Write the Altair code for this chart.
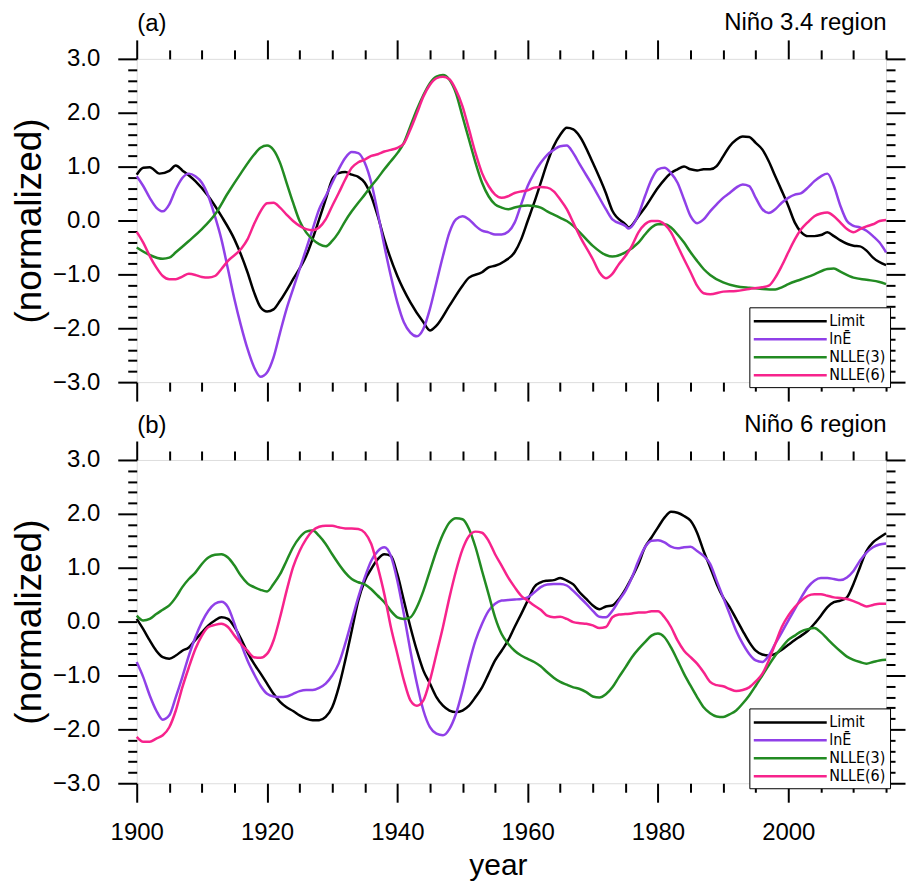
import altair as alt
import pandas as pd

SERIES = ["Limit", "lnĒ", "NLLE(3)", "NLLE(6)"]
COLORS = ["#000000", "#9040E8", "#228B22", "#F7238C"]
X_TICKS = list(range(1900, 2016, 5))
Y_TICKS = [round(-3 + 0.2 * i, 1) for i in range(31)]
PANEL_TAGS = ["(a)", "(b)"]
PANEL_REGIONS = ["Niño 3.4 region", "Niño 6 region"]

# ---- panel (a): Niño 3.4 region ----
A_LIMIT = [(1900, 0.85), (1901, 0.98), (1902, 0.99), (1903.5, 0.87), (1905, 0.92), (1906, 1.02), (1907, 0.93),
           (1909, 0.73), (1911, 0.45), (1913, 0.08), (1915, -0.35), (1917, -0.96), (1918, -1.33), (1919, -1.61),
           (1920, -1.69), (1921, -1.65), (1922, -1.49), (1924, -1.09), (1926, -0.66), (1928, 0.02), (1929, 0.39),
           (1930, 0.76), (1931, 0.88), (1932, 0.9), (1933, 0.85), (1934, 0.81), (1935, 0.7), (1936, 0.45),
           (1937, 0.08), (1938, -0.35), (1940, -1.03), (1942, -1.52), (1944, -1.89), (1945, -2.04), (1946, -1.95),
           (1948, -1.58), (1950, -1.21), (1951, -1.06), (1953, -0.96), (1954, -0.87), (1955, -0.84), (1956.5, -0.75),
           (1958, -0.59), (1959, -0.35), (1960, -0.01), (1961, 0.33), (1962, 0.7), (1963, 1.07), (1964, 1.38),
           (1965, 1.59), (1966, 1.72), (1967, 1.69), (1968, 1.56), (1970, 1.07), (1972, 0.51), (1973, 0.18),
           (1975, -0.07), (1975.5, -0.13), (1977, 0.08), (1978, 0.24), (1980, 0.61), (1981, 0.76), (1982, 0.88),
           (1983, 0.95), (1984, 1.0), (1985, 0.95), (1986, 0.93), (1987, 0.95), (1988, 0.95), (1989, 1.01),
           (1990, 1.19), (1991, 1.38), (1992, 1.5), (1993, 1.56), (1994, 1.55), (1995, 1.44), (1996, 1.32),
           (1997, 1.1), (1998, 0.82), (1999, 0.55), (2000, 0.27), (2001, -0.04), (2002, -0.22), (2003, -0.29),
           (2004, -0.29), (2005, -0.27), (2006, -0.22), (2007, -0.29), (2008, -0.37), (2010, -0.47), (2011, -0.48),
           (2012, -0.56), (2013, -0.69), (2015, -0.83)]
A_LNE = [(1900, 0.82), (1901, 0.64), (1902, 0.42), (1903, 0.24), (1904, 0.17), (1905, 0.3), (1906, 0.58),
         (1907, 0.79), (1908, 0.87), (1909, 0.82), (1910, 0.7), (1911, 0.45), (1912, 0.08), (1913, -0.35),
         (1914, -0.9), (1915, -1.46), (1916, -1.95), (1917, -2.38), (1918, -2.72), (1919, -2.9), (1920, -2.82),
         (1921, -2.54), (1922, -2.08), (1923, -1.64), (1924, -1.27), (1925, -0.9), (1926, -0.53), (1927, -0.16),
         (1928, 0.21), (1929, 0.45), (1930, 0.7), (1931, 0.95), (1932, 1.16), (1933, 1.27), (1934, 1.25),
         (1935, 1.07), (1936, 0.7), (1937, 0.14), (1938, -0.47), (1939, -1.03), (1940, -1.52), (1941, -1.89),
         (1942, -2.08), (1943, -2.15), (1944, -2.01), (1945, -1.64), (1946, -1.15), (1947, -0.66), (1948, -0.22),
         (1949, 0.02), (1950, 0.08), (1951, 0.02), (1952, -0.1), (1953, -0.19), (1954, -0.22), (1955, -0.26),
         (1956, -0.26), (1957, -0.21), (1958, -0.04), (1959, 0.3), (1960, 0.64), (1961, 0.88), (1962, 1.07),
         (1963, 1.22), (1964, 1.31), (1965, 1.38), (1966, 1.39), (1967, 1.25), (1968, 1.04), (1970, 0.64),
         (1972, 0.21), (1973, 0.02), (1975, -0.1), (1975.5, -0.15), (1977, 0.11), (1978, 0.45), (1979, 0.76),
         (1980, 0.95), (1981, 0.98), (1982, 0.88), (1983, 0.7), (1984, 0.39), (1985, 0.08), (1986, -0.05),
         (1987, 0.02), (1988, 0.17), (1989, 0.3), (1990, 0.42), (1991, 0.51), (1992, 0.61), (1993, 0.67),
         (1994, 0.64), (1995, 0.42), (1996, 0.21), (1997, 0.14), (1998, 0.21), (1999, 0.33), (2000, 0.42),
         (2001, 0.48), (2002, 0.51), (2003, 0.61), (2004, 0.73), (2005, 0.82), (2006, 0.87), (2007, 0.64),
         (2008, 0.27), (2009, -0.01), (2010, -0.1), (2011, -0.13), (2012, -0.19), (2013, -0.29), (2014, -0.41),
         (2015, -0.59)]
A_NLLE3 = [(1900, -0.5), (1902, -0.64), (1904, -0.71), (1905, -0.69), (1906, -0.59), (1908, -0.38), (1910, -0.16),
           (1912, 0.11), (1914, 0.51), (1916, 0.88), (1918, 1.22), (1919, 1.35), (1920, 1.39), (1921, 1.31),
           (1922, 1.07), (1923, 0.7), (1924, 0.33), (1925, -0.01), (1926, -0.22), (1927, -0.35), (1928, -0.44),
           (1929, -0.48), (1930, -0.38), (1931, -0.22), (1932, -0.01), (1933, 0.17), (1934, 0.33), (1935, 0.48),
           (1936, 0.64), (1937, 0.79), (1938, 0.95), (1939, 1.1), (1940, 1.25), (1941, 1.44), (1942, 1.75),
           (1943, 2.06), (1944, 2.33), (1945, 2.55), (1946, 2.67), (1947, 2.7), (1948, 2.61), (1949, 2.36),
           (1950, 1.93), (1951, 1.5), (1952, 1.07), (1953, 0.7), (1954, 0.45), (1955, 0.3), (1956, 0.24),
           (1957, 0.21), (1958, 0.24), (1959, 0.27), (1960, 0.28), (1961, 0.27), (1962, 0.24), (1963, 0.17),
           (1964, 0.11), (1965, 0.05), (1966, -0.01), (1967, -0.1), (1968, -0.22), (1970, -0.47), (1972, -0.64),
           (1973, -0.67), (1975, -0.59), (1977, -0.41), (1978, -0.26), (1979, -0.13), (1980, -0.07), (1981, -0.07),
           (1982, -0.13), (1983, -0.26), (1984, -0.41), (1985, -0.59), (1986, -0.75), (1987, -0.9), (1988, -1.01),
           (1990, -1.15), (1992, -1.22), (1994, -1.25), (1996, -1.27), (1998, -1.28), (1999, -1.24), (2000, -1.18),
           (2002, -1.09), (2004, -1.0), (2006, -0.9), (2007, -0.89), (2008, -0.95), (2010, -1.06), (2012, -1.1),
           (2014, -1.14), (2015, -1.18)]
A_NLLE6 = [(1900, -0.21), (1901, -0.41), (1902, -0.66), (1903, -0.87), (1904, -1.03), (1905, -1.09), (1906, -1.09),
           (1907, -1.04), (1908, -0.99), (1909, -1.01), (1910, -1.05), (1911, -1.06), (1912, -1.03), (1913, -0.9),
           (1914, -0.75), (1916, -0.53), (1917, -0.35), (1918, -0.07), (1919, 0.17), (1920, 0.32), (1921, 0.33),
           (1922, 0.24), (1923, 0.11), (1924, -0.01), (1925, -0.1), (1926, -0.16), (1927, -0.18), (1928, -0.13),
           (1929, 0.02), (1930, 0.27), (1931, 0.51), (1932, 0.76), (1933, 0.98), (1934, 1.08), (1935, 1.13),
           (1936, 1.2), (1937, 1.23), (1938, 1.28), (1939, 1.31), (1940, 1.35), (1941, 1.43), (1942, 1.69),
           (1943, 1.99), (1944, 2.3), (1945, 2.52), (1946, 2.64), (1947, 2.67), (1948, 2.62), (1949, 2.42),
           (1950, 2.12), (1951, 1.69), (1952, 1.25), (1953, 0.88), (1954, 0.64), (1955, 0.48), (1956, 0.42),
           (1957, 0.45), (1958, 0.51), (1959, 0.54), (1960, 0.56), (1961, 0.61), (1962, 0.62), (1963, 0.61),
           (1964, 0.54), (1965, 0.39), (1966, 0.21), (1967, -0.04), (1968, -0.29), (1970, -0.72), (1971, -0.96),
           (1972, -1.07), (1973, -0.99), (1974, -0.81), (1975, -0.66), (1976, -0.47), (1977, -0.22), (1978, -0.07),
           (1979, -0.01), (1980, -0.01), (1981, -0.07), (1982, -0.22), (1983, -0.47), (1984, -0.72), (1985, -0.96),
           (1986, -1.21), (1987, -1.35), (1988, -1.37), (1990, -1.32), (1992, -1.31), (1994, -1.27), (1996, -1.24),
           (1997, -1.21), (1998, -1.06), (1999, -0.84), (2000, -0.59), (2001, -0.35), (2002, -0.16), (2003, -0.03),
           (2004, 0.08), (2005, 0.13), (2006, 0.15), (2007, 0.08), (2008, -0.04), (2009, -0.16), (2010, -0.22),
           (2011, -0.16), (2012, -0.11), (2013, -0.07), (2014, -0.01), (2015, 0.01)]

# ---- panel (b): Niño 6 region ----
B_LIMIT = [(1900, 0.05), (1901, -0.14), (1902, -0.35), (1903, -0.54), (1904, -0.66), (1905, -0.69), (1906, -0.63),
           (1907, -0.54), (1908, -0.48), (1909, -0.34), (1910, -0.2), (1911, -0.07), (1912, 0.02), (1913, 0.08),
           (1914, 0.05), (1915, -0.1), (1916, -0.32), (1917, -0.57), (1918, -0.78), (1919, -0.96), (1920, -1.15),
           (1921, -1.34), (1922, -1.49), (1923, -1.59), (1924, -1.66), (1925, -1.74), (1926, -1.8), (1927, -1.83),
           (1928, -1.83), (1929, -1.77), (1930, -1.59), (1931, -1.22), (1932, -0.72), (1933, -0.17), (1934, 0.39),
           (1935, 0.76), (1936, 0.98), (1937, 1.16), (1938, 1.25), (1939, 1.22), (1940, 0.88), (1941, 0.39),
           (1942, -0.1), (1943, -0.54), (1944, -0.91), (1945, -1.15), (1946, -1.4), (1947, -1.56), (1948, -1.65),
           (1949, -1.68), (1950, -1.65), (1951, -1.56), (1952, -1.4), (1953, -1.22), (1954, -0.97), (1955, -0.72),
           (1956, -0.54), (1957, -0.35), (1958, -0.1), (1959, 0.14), (1960, 0.39), (1961, 0.64), (1962, 0.73),
           (1963, 0.76), (1964, 0.77), (1965, 0.81), (1966, 0.76), (1967, 0.69), (1968, 0.54), (1969, 0.42),
           (1970, 0.3), (1971, 0.23), (1972, 0.28), (1973, 0.3), (1974, 0.42), (1975, 0.6), (1976, 0.82),
           (1977, 1.07), (1978, 1.38), (1979, 1.56), (1980, 1.75), (1981, 1.93), (1982, 2.04), (1983, 2.02),
           (1984, 1.96), (1985, 1.87), (1986, 1.65), (1987, 1.31), (1988, 1.01), (1989, 0.7), (1990, 0.45),
           (1991, 0.27), (1992, 0.05), (1993, -0.17), (1994, -0.38), (1995, -0.54), (1996, -0.61), (1997, -0.63),
           (1998, -0.6), (1999, -0.52), (2000, -0.43), (2001, -0.34), (2002, -0.26), (2003, -0.17), (2004, -0.04),
           (2005, 0.11), (2006, 0.27), (2007, 0.36), (2008, 0.39), (2009, 0.45), (2010, 0.7), (2011, 1.01),
           (2012, 1.31), (2013, 1.47), (2014, 1.56), (2015, 1.64)]
B_LNE = [(1900, -0.75), (1901, -1.03), (1902, -1.37), (1903, -1.65), (1904, -1.82), (1905, -1.74), (1906, -1.4),
         (1907, -1.03), (1908, -0.63), (1909, -0.29), (1910, -0.01), (1911, 0.2), (1912, 0.33), (1913, 0.37),
         (1914, 0.27), (1915, -0.04), (1916, -0.41), (1917, -0.72), (1918, -0.97), (1919, -1.19), (1920, -1.34),
         (1921, -1.39), (1922, -1.4), (1923, -1.39), (1924, -1.34), (1925, -1.29), (1926, -1.27), (1927, -1.27),
         (1928, -1.23), (1929, -1.15), (1930, -1.0), (1931, -0.78), (1932, -0.41), (1933, 0.02), (1934, 0.45),
         (1935, 0.82), (1936, 1.13), (1937, 1.31), (1938, 1.38), (1939, 1.22), (1940, 0.76), (1941, 0.14),
         (1942, -0.54), (1943, -1.15), (1944, -1.65), (1945, -1.96), (1946, -2.08), (1947, -2.11), (1948, -1.99),
         (1949, -1.71), (1950, -1.28), (1951, -0.78), (1952, -0.35), (1953, -0.04), (1954, 0.2), (1955, 0.33),
         (1956, 0.39), (1957, 0.4), (1958, 0.41), (1959, 0.42), (1960, 0.45), (1961, 0.54), (1962, 0.64),
         (1963, 0.69), (1964, 0.7), (1965, 0.7), (1966, 0.67), (1967, 0.57), (1968, 0.45), (1969, 0.33),
         (1970, 0.2), (1971, 0.09), (1972, 0.08), (1973, 0.2), (1974, 0.39), (1975, 0.57), (1976, 0.82),
         (1977, 1.13), (1978, 1.38), (1979, 1.5), (1980, 1.51), (1981, 1.47), (1982, 1.39), (1983, 1.36),
         (1984, 1.38), (1985, 1.39), (1986, 1.31), (1987, 1.22), (1988, 1.07), (1989, 0.76), (1990, 0.45),
         (1991, 0.14), (1992, -0.17), (1993, -0.41), (1994, -0.6), (1995, -0.72), (1996, -0.75), (1997, -0.63),
         (1998, -0.41), (1999, -0.2), (2000, 0.02), (2001, 0.23), (2002, 0.45), (2003, 0.64), (2004, 0.76),
         (2005, 0.81), (2006, 0.81), (2007, 0.79), (2008, 0.77), (2009, 0.82), (2010, 0.94), (2011, 1.13),
         (2012, 1.28), (2013, 1.38), (2014, 1.43), (2015, 1.45)]
B_NLLE3 = [(1900, 0.11), (1901, 0.02), (1902, 0.05), (1903, 0.14), (1904, 0.22), (1905, 0.3), (1906, 0.45),
           (1907, 0.64), (1908, 0.79), (1909, 0.91), (1910, 1.07), (1911, 1.19), (1912, 1.24), (1913, 1.25),
           (1914, 1.19), (1915, 1.04), (1916, 0.85), (1917, 0.71), (1918, 0.64), (1919, 0.59), (1920, 0.56),
           (1921, 0.7), (1922, 0.88), (1923, 1.13), (1924, 1.38), (1925, 1.56), (1926, 1.67), (1927, 1.69),
           (1928, 1.59), (1929, 1.44), (1930, 1.25), (1931, 1.07), (1932, 0.91), (1933, 0.79), (1934, 0.73),
           (1935, 0.69), (1936, 0.6), (1937, 0.48), (1938, 0.36), (1939, 0.2), (1940, 0.08), (1941, 0.05),
           (1942, 0.08), (1943, 0.27), (1944, 0.57), (1945, 0.94), (1946, 1.31), (1947, 1.62), (1948, 1.84),
           (1949, 1.92), (1950, 1.9), (1951, 1.72), (1952, 1.38), (1953, 0.94), (1954, 0.51), (1955, 0.08),
           (1956, -0.23), (1957, -0.41), (1958, -0.54), (1959, -0.63), (1960, -0.69), (1961, -0.75), (1962, -0.83),
           (1963, -0.94), (1964, -1.04), (1965, -1.12), (1966, -1.17), (1967, -1.22), (1968, -1.25), (1969, -1.31),
           (1970, -1.39), (1971, -1.41), (1972, -1.35), (1973, -1.22), (1974, -1.03), (1975, -0.85), (1976, -0.66),
           (1977, -0.51), (1978, -0.38), (1979, -0.26), (1980, -0.22), (1981, -0.29), (1982, -0.48), (1983, -0.72),
           (1984, -0.97), (1985, -1.19), (1986, -1.4), (1987, -1.59), (1988, -1.7), (1989, -1.76), (1990, -1.77),
           (1991, -1.72), (1992, -1.65), (1993, -1.52), (1994, -1.37), (1995, -1.19), (1996, -1.0), (1997, -0.81),
           (1998, -0.63), (1999, -0.48), (2000, -0.34), (2001, -0.26), (2002, -0.18), (2003, -0.14), (2004, -0.12),
           (2005, -0.2), (2006, -0.32), (2007, -0.44), (2008, -0.55), (2009, -0.65), (2010, -0.71), (2011, -0.75),
           (2012, -0.78), (2013, -0.75), (2014, -0.72), (2015, -0.71)]
B_NLLE6 = [(1900, -2.14), (1901, -2.23), (1902, -2.23), (1903, -2.17), (1904, -2.11), (1905, -1.96), (1906, -1.65),
           (1907, -1.22), (1908, -0.85), (1909, -0.51), (1910, -0.26), (1911, -0.1), (1912, -0.06), (1913, -0.04),
           (1914, -0.1), (1915, -0.26), (1916, -0.41), (1917, -0.54), (1918, -0.66), (1919, -0.67), (1920, -0.6),
           (1921, -0.35), (1922, 0.08), (1923, 0.57), (1924, 1.01), (1925, 1.31), (1926, 1.53), (1927, 1.69),
           (1928, 1.76), (1929, 1.78), (1930, 1.78), (1931, 1.75), (1932, 1.73), (1933, 1.73), (1934, 1.72),
           (1935, 1.65), (1936, 1.44), (1937, 1.01), (1938, 0.51), (1939, -0.1), (1940, -0.6), (1941, -1.09),
           (1942, -1.46), (1943, -1.56), (1944, -1.46), (1945, -1.09), (1946, -0.6), (1947, -0.1), (1948, 0.45),
           (1949, 0.94), (1950, 1.34), (1951, 1.59), (1952, 1.67), (1953, 1.65), (1954, 1.5), (1955, 1.25),
           (1956, 1.04), (1957, 0.82), (1958, 0.64), (1959, 0.48), (1960, 0.39), (1961, 0.3), (1962, 0.22),
           (1963, 0.11), (1964, 0.08), (1965, 0.09), (1966, 0.05), (1967, -0.01), (1968, -0.03), (1969, -0.04),
           (1970, -0.07), (1971, -0.12), (1972, -0.1), (1973, 0.08), (1974, 0.13), (1975, 0.14), (1976, 0.15),
           (1977, 0.17), (1978, 0.17), (1979, 0.19), (1980, 0.19), (1981, 0.08), (1982, -0.1), (1983, -0.35),
           (1984, -0.54), (1985, -0.66), (1986, -0.78), (1987, -0.94), (1988, -1.12), (1989, -1.18), (1990, -1.2),
           (1991, -1.25), (1992, -1.29), (1993, -1.27), (1994, -1.22), (1995, -1.11), (1996, -0.97), (1997, -0.72),
           (1998, -0.41), (1999, -0.1), (2000, 0.11), (2001, 0.27), (2002, 0.39), (2003, 0.48), (2004, 0.51),
           (2005, 0.51), (2006, 0.48), (2007, 0.45), (2008, 0.44), (2009, 0.42), (2010, 0.38), (2011, 0.33),
           (2012, 0.28), (2013, 0.31), (2014, 0.33), (2015, 0.33)]

PANELS = [[A_LIMIT, A_LNE, A_NLLE3, A_NLLE6], [B_LIMIT, B_LNE, B_NLLE3, B_NLLE6]]

FONT = "Liberation Sans"
NARROW = "'DejaVu Sans Condensed', 'Liberation Sans'"
MAJOR_X = "datum.value % 20 === 0"
MAJOR_Y = "abs(datum.value - round(datum.value)) < 0.001"
W, H = 751, 324


def make_frame(series_lists):
    rows = []
    for name, pts in zip(SERIES, series_lists):
        for i, (yr, v) in enumerate(pts):
            rows.append({"year": yr, "value": v, "series": name, "order": i})
    return pd.DataFrame(rows)


def panel(idx, last):
    df = make_frame(PANELS[idx])
    xs = alt.Scale(domain=[1900, 2015], nice=False, zero=False)
    ys = alt.Scale(domain=[-3, 3], nice=False, zero=False)
    tick_x = {"condition": {"test": MAJOR_X, "value": 19}, "value": 9}
    tick_y = {"condition": {"test": MAJOR_Y, "value": 19}, "value": 9}
    common = dict(domain=False, tickColor="black", tickWidth=2, grid=False)

    bottom_kw = dict(orient="bottom", values=X_TICKS, tickSize=tick_x, format="d",
                     labels=last, labelExpr=f"{MAJOR_X} ? datum.label : ''",
                     labelFlush=False, labelOverlap=False, labelFont=FONT, labelFontSize=24,
                     labelColor="black", labelPadding=18, **common)
    if last:
        bottom_kw.update(title="year", titleFont=FONT, titleFontSize=30, titleFontWeight="normal",
                         titleColor="black", titlePadding=6, titleX=362, titleAlign="center")
    else:
        bottom_kw.update(title=None)
    bottom = alt.Axis(**bottom_kw)
    left = alt.Axis(orient="left", values=Y_TICKS, tickSize=tick_y, format=".1f",
                    labelExpr=f"{MAJOR_Y} ? datum.label : ''", labelOverlap=False,
                    labelFont=FONT, labelFontSize=24, labelColor="black", labelPadding=18,
                    title="(normalized)", titleFont=FONT, titleFontSize=37, titleFontWeight="normal",
                    titleColor="black", titlePadding=4, **common)
    top = alt.Axis(orient="top", values=X_TICKS, tickSize=tick_x, labels=False,
                   title=PANEL_REGIONS[idx], titleFont=FONT, titleFontSize=24, titleFontWeight="normal",
                   titleColor="black", titleAnchor="end", titlePadding=4, **common)
    right = alt.Axis(orient="right", values=Y_TICKS, tickSize=tick_y, labels=False, title=None, **common)
    tagaxis = alt.Axis(orient="top", values=X_TICKS, ticks=False, labels=False, domain=False, grid=False,
                       title=PANEL_TAGS[idx], titleFont=FONT, titleFontSize=24, titleFontWeight="normal",
                       titleColor="black", titleAnchor="start", titlePadding=23)

    legend = alt.Legend(title=None, orient="none", legendX=W - 137, legendY=249, direction="vertical",
                        symbolType="M-4.3,0H4.3", symbolSize=289, symbolStrokeWidth=2.5,
                        symbolOffset=27, labelOffset=29,
                        labelFont=NARROW, labelFontSize=16, labelColor="black",
                        strokeColor="black", fillColor="white", padding=4, rowPadding=-1,
                        cornerRadius=0)

    lines = alt.Chart(df).mark_line(strokeWidth=2.5, interpolate="monotone").encode(
        x=alt.X("year:Q", scale=xs, axis=bottom),
        y=alt.Y("value:Q", scale=ys, axis=left),
        color=alt.Color("series:N", scale=alt.Scale(domain=SERIES, range=COLORS), legend=legend),
        order="order:Q",
    )
    ghost = alt.Chart(df).mark_line(opacity=0).encode(
        x=alt.X("year:Q", scale=xs, axis=top),
        y=alt.Y("value:Q", scale=ys, axis=right),
        detail="series:N",
    )
    tag = alt.Chart(df).mark_line(opacity=0).encode(
        x=alt.X("year:Q", scale=xs, axis=tagaxis),
        y=alt.Y("value:Q", scale=ys, axis=None),
        detail="series:N",
    )
    return alt.layer(lines, ghost, tag).resolve_axis(x="independent", y="independent").properties(
        width=W, height=H)


chart = alt.vconcat(panel(0, False), panel(1, True), spacing=8).resolve_scale(
    color="independent"
).properties(
    padding={"left": 2, "top": 1, "right": 0, "bottom": 0}
).configure_view(stroke="black", strokeWidth=2).configure_legend(strokeWidth=2).configure(background="white")

chart.save("out.html", embed_options={"renderer": "svg", "actions": False})
